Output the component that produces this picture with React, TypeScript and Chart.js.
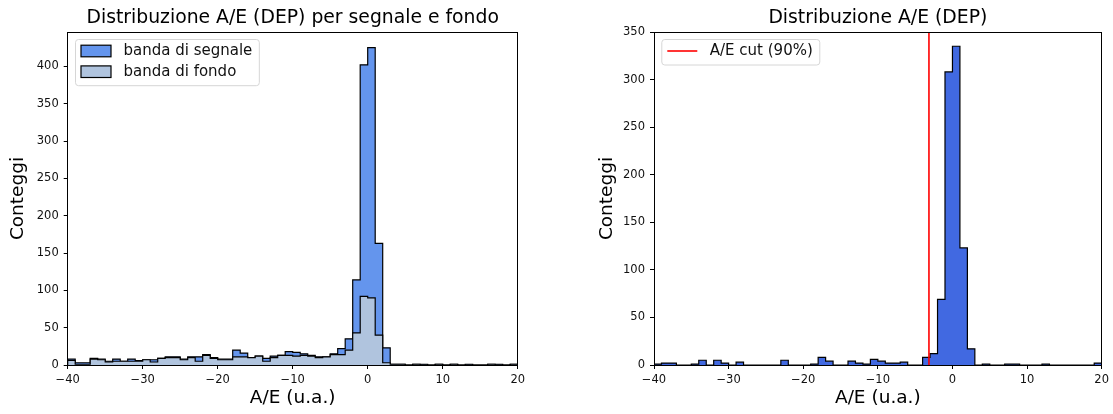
import React, { useEffect, useRef } from "react";
import { Chart, registerables } from "chart.js";

Chart.register(...registerables);

// ---------- data ----------
const BIN_START = -40;
const BIN_WIDTH = 1;
const X_MIN = -40;
const X_MAX = 20;

// left panel: counts per 1-unit bin from -40 to 20
const SIGNAL_BAND_COUNTS = [
  8, 3, 3, 9, 8, 5, 8, 5, 8, 6,
  7, 7, 9, 11, 11, 8, 11, 11, 14, 10,
  8, 8, 20, 16, 10, 12, 9, 12, 13, 18,
  17, 15, 13, 11, 11, 15, 22, 35, 114, 402,
  425, 163, 23, 1, 1, 0, 1, 1, 0, 1,
  0, 1, 0, 1, 0, 0, 1, 1, 0, 1,
];
const BACKGROUND_BAND_COUNTS = [
  6, 1, 1, 8, 7, 4, 5, 5, 5, 5,
  7, 4, 9, 10, 10, 7, 10, 5, 13, 9,
  7, 7, 11, 11, 10, 12, 5, 10, 13, 13,
  12, 13, 12, 10, 11, 14, 14, 20, 43, 92,
  90, 40, 3, 1, 1, 0, 1, 0, 0, 1,
  0, 1, 0, 0, 0, 0, 1, 0, 0, 1,
];
// right panel
const DEP_COUNTS = [
  1, 2, 2, 0, 0, 1, 5, 0, 5, 2,
  0, 3, 0, 0, 0, 0, 0, 5, 0, 0,
  0, 1, 8, 4, 0, 0, 4, 2, 1, 6,
  4, 2, 2, 3, 0, 0, 8, 12, 69, 308,
  335, 123, 17, 0, 1, 0, 0, 1, 1, 0,
  0, 0, 1, 0, 0, 0, 0, 0, 0, 2,
];
const CUT_VALUE = -3.15;

const X_TICKS = [-40, -30, -20, -10, 0, 10, 20];
const LEFT_Y_TICKS = [0, 50, 100, 150, 200, 250, 300, 350, 400];
const RIGHT_Y_TICKS = [0, 50, 100, 150, 200, 250, 300, 350];
const LEFT_Y_MAX = 446;
const RIGHT_Y_MAX = 350;

const LEFT_TITLE = "Distribuzione A/E (DEP) per segnale e fondo";
const RIGHT_TITLE = "Distribuzione A/E (DEP)";
const X_LABEL = "A/E (u.a.)";
const Y_LABEL = "Conteggi";
const SIGNAL_LABEL = "banda di segnale";
const BACKGROUND_LABEL = "banda di fondo";
const CUT_LABEL = "A/E cut (90%)";

// ---------- helpers ----------
const FONT = "'DejaVu Sans', 'Liberation Sans', sans-serif";

function histogramPoints(counts: number[]) {
  const pts: { x: number; y: number }[] = [{ x: BIN_START, y: 0 }];
  counts.forEach((c, i) => pts.push({ x: BIN_START + i * BIN_WIDTH, y: c }));
  const end = BIN_START + counts.length * BIN_WIDTH;
  pts.push({ x: end, y: counts[counts.length - 1] });
  pts.push({ x: end, y: 0 });
  return pts;
}

const fmt = (v: number) => String(v).replace("-", "\u2212");

const align = (v: number) => Math.round(v - 0.5) + 0.5;

const framePlugin = {
  id: "frame",
  afterDatasetsDraw(chart: any) {
    const { ctx, chartArea: a } = chart;
    ctx.save();
    ctx.strokeStyle = "#000";
    ctx.lineWidth = 1;
    const l = align(a.left), r = align(a.right), t = align(a.top), b = align(a.bottom);
    ctx.strokeRect(l, t, r - l, b - t);
    ctx.restore();
  },
};

const insetLegendPlugin = {
  id: "insetLegend",
  afterDraw(chart: any) {
    const { ctx, chartArea: a } = chart;
    const items = chart.data.datasets.filter((d: any) => d.legendKind);
    if (!items.length) return;
    ctx.save();
    ctx.font = `15px ${FONT}`;
    const textW = Math.max(...items.map((d: any) => ctx.measureText(d.label).width));
    const x0 = a.left + 7.3;
    const y0 = a.top + 7;
    const rowH = 20.7;
    const w = 6 + 30 + 12.5 + textW + 6.5;
    const h = 12 + (items.length - 1) * rowH + 13.5;
    ctx.beginPath();
    ctx.roundRect(x0 + 0.5, y0 + 0.5, w, h, 3);
    ctx.fillStyle = "rgba(255,255,255,0.8)";
    ctx.fill();
    ctx.strokeStyle = "#d6d6d6";
    ctx.lineWidth = 1;
    ctx.stroke();
    items.forEach((d: any, i: number) => {
      const cy = y0 + 12 + i * rowH;
      if (d.legendKind === "box") {
        ctx.fillStyle = d.backgroundColor;
        ctx.fillRect(x0 + 6, cy - 5.8, 30, 11.6);
        ctx.strokeStyle = d.borderColor;
        ctx.lineWidth = 1.2;
        ctx.strokeRect(x0 + 6, cy - 5.8, 30, 11.6);
      } else {
        ctx.strokeStyle = d.borderColor;
        ctx.lineWidth = d.borderWidth;
        ctx.beginPath();
        ctx.moveTo(x0 + 6, cy);
        ctx.lineTo(x0 + 36, cy);
        ctx.stroke();
      }
      ctx.fillStyle = "#111";
      ctx.textBaseline = "middle";
      ctx.textAlign = "left";
      ctx.fillText(d.label, x0 + 48.5, cy + 0.5);
    });
    ctx.restore();
  },
};

function makeConfig(p: {
  datasets: any[];
  yMax: number;
  yTicks: number[];
  title: string;
  yAxisWidth: number;
  yTitlePad: number;
  rightPad: number;
}) {
  return {
    type: "line",
    data: { datasets: p.datasets },
    options: {
      animation: false,
      responsive: false,
      devicePixelRatio: 1,
      events: [],
      layout: { padding: { left: 0, right: p.rightPad, top: 0, bottom: 0 } },
      elements: { point: { radius: 0, hitRadius: 0 } },
      plugins: {
        legend: { display: false },
        tooltip: { enabled: false },
        title: {
          display: true,
          fullSize: false,
          text: p.title,
          color: "#000",
          font: { family: FONT, size: 18.8, weight: "normal", lineHeight: 1.2 },
          padding: { top: 6.4, bottom: 3.04 },
        },
      },
      scales: {
        x: {
          type: "linear",
          min: X_MIN,
          max: X_MAX,
          afterBuildTicks: (s: any) => {
            s.ticks = X_TICKS.map((v) => ({ value: v }));
          },
          afterFit: (s: any) => {
            s.height = 49;
          },
          border: { display: false },
          grid: { drawOnChartArea: false, drawTicks: true, tickLength: 4, color: "#000", lineWidth: 1 },
          ticks: {
            autoSkip: false,
            maxRotation: 0,
            padding: 4,
            color: "#111",
            font: { family: FONT, size: 11.5 },
            callback: (v: any) => fmt(v),
          },
          title: {
            display: true,
            text: X_LABEL,
            color: "#000",
            font: { family: FONT, size: 18.5, lineHeight: 1.2 },
            padding: { top: 0, bottom: 4.9 },
          },
        },
        y: {
          type: "linear",
          min: 0,
          max: p.yMax,
          afterBuildTicks: (s: any) => {
            s.ticks = p.yTicks.map((v) => ({ value: v }));
          },
          afterFit: (s: any) => {
            s.width = p.yAxisWidth;
          },
          border: { display: false },
          grid: { drawOnChartArea: false, drawTicks: true, tickLength: 4, color: "#000", lineWidth: 1 },
          ticks: {
            autoSkip: false,
            padding: 5,
            color: "#111",
            font: { family: FONT, size: 11.5 },
            callback: (v: any) => fmt(v),
          },
          title: {
            display: true,
            text: Y_LABEL,
            color: "#000",
            font: { family: FONT, size: 18.5, lineHeight: 1.2 },
            padding: { top: p.yTitlePad, bottom: 0 },
          },
        },
      },
    },
    plugins: [framePlugin, insetLegendPlugin],
  } as any;
}

function ChartCanvas({ config, left, width }: { config: () => any; left: number; width: number }) {
  const ref = useRef<HTMLCanvasElement | null>(null);
  useEffect(() => {
    if (!ref.current) return;
    const chart = new Chart(ref.current, config());
    return () => chart.destroy();
  }, []);
  return (
    <canvas
      ref={ref}
      width={width}
      height={414}
      style={{ position: "absolute", left, top: 0, width, height: 414 }}
    />
  );
}

export default function App() {
  const leftConfig = () =>
    makeConfig({
      title: LEFT_TITLE,
      yMax: LEFT_Y_MAX,
      yTicks: LEFT_Y_TICKS,
      yAxisWidth: 67.7,
      yTitlePad: 7.4,
      rightPad: 545 - 517.7,
      datasets: [
        {
          label: SIGNAL_LABEL,
          legendKind: "box",
          data: histogramPoints(SIGNAL_BAND_COUNTS),
          stepped: "before",
          fill: "origin",
          backgroundColor: "#6495ED",
          borderColor: "#000",
          borderWidth: 1.2,
          order: 2,
        },
        {
          label: BACKGROUND_LABEL,
          legendKind: "box",
          data: histogramPoints(BACKGROUND_BAND_COUNTS),
          stepped: "before",
          fill: "origin",
          backgroundColor: "#B0C4DE",
          borderColor: "#000",
          borderWidth: 1.2,
          order: 1,
        },
      ],
    });
  const rightConfig = () =>
    makeConfig({
      title: RIGHT_TITLE,
      yMax: RIGHT_Y_MAX,
      yTicks: RIGHT_Y_TICKS,
      yAxisWidth: 654 - 560,
      yTitlePad: 47 - 11.1,
      rightPad: 1113 - 1104,
      datasets: [
        {
          label: "DEP",
          data: histogramPoints(DEP_COUNTS),
          stepped: "before",
          fill: "origin",
          backgroundColor: "#4169E1",
          borderColor: "#000",
          borderWidth: 1.2,
          order: 2,
        },
        {
          label: CUT_LABEL,
          legendKind: "line",
          data: [
            { x: CUT_VALUE, y: 0 },
            { x: CUT_VALUE, y: RIGHT_Y_MAX },
          ],
          fill: false,
          borderColor: "#FF0000",
          borderWidth: 1.6,
          order: 1,
        },
      ],
    });
  return (
    <div style={{ position: "absolute", left: 0, top: 0, width: 1113, height: 414, background: "#fff" }}>
      <ChartCanvas config={leftConfig} left={0} width={545} />
      <ChartCanvas config={rightConfig} left={560} width={553} />
    </div>
  );
}
